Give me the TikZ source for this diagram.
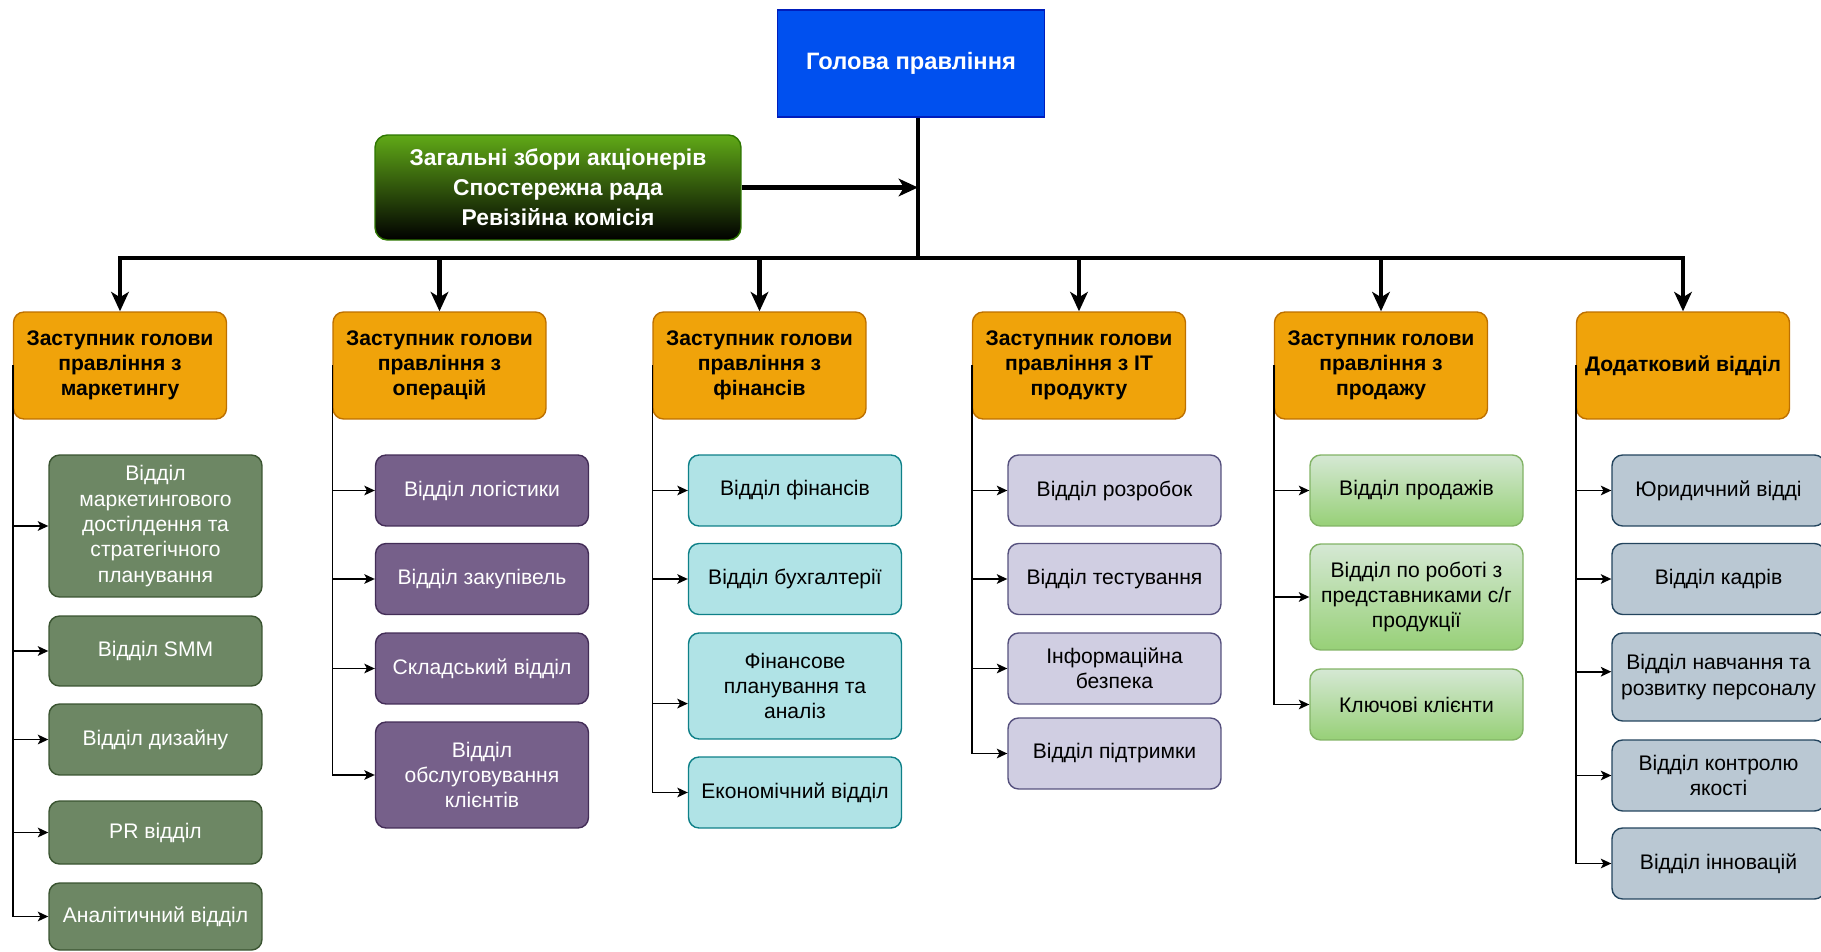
\documentclass[tikz,border=0pt]{standalone}
\usepackage{fontspec}
\setmainfont{Liberation Sans}
\usepackage{tikz}
\usetikzlibrary{arrows.meta,positioning}

\definecolor{chieffill}{HTML}{0050EF}
\definecolor{chiefline}{HTML}{001DBC}
\definecolor{boardtop}{HTML}{60A917}
\definecolor{boardline}{HTML}{2D7600}
\definecolor{deputyfill}{HTML}{F0A30A}
\definecolor{deputyline}{HTML}{BD7000}
\definecolor{mktfill}{HTML}{6D8764}
\definecolor{mktline}{HTML}{3A5431}
\definecolor{opsfill}{HTML}{76608A}
\definecolor{opsline}{HTML}{432D57}
\definecolor{finfill}{HTML}{B0E3E6}
\definecolor{finline}{HTML}{0E8088}
\definecolor{itfill}{HTML}{D0CEE2}
\definecolor{itline}{HTML}{56517E}
\definecolor{saletop}{HTML}{D5E8D4}
\definecolor{salebottom}{HTML}{97D077}
\definecolor{saleline}{HTML}{82B366}
\definecolor{extfill}{HTML}{BAC8D3}
\definecolor{extline}{HTML}{23445D}

\begin{document}
\begin{tikzpicture}[
	x=0.02cm, y=-0.02cm,
	mainline/.style={line width=2.4pt, -{Stealth[length=11pt,width=10pt,inset=3pt]}},
	subline/.style={line width=0.9pt, -{Stealth[length=6pt,width=5.5pt,inset=1.5pt]}},
	dept/.style={draw, rounded corners=6pt, line width=0.8pt, align=center,
		minimum width=4.26cm, minimum height=1.42cm, inner sep=1pt,
		font=\fontsize{12}{14.4}\selectfont},
	chiefbox/.style={draw=chiefline, fill=chieffill, text=white, line width=0.8pt,
		minimum width=5.34cm, minimum height=2.14cm,
		font=\fontsize{13.5}{16}\selectfont\bfseries},
	boardbox/.style={draw=boardline, top color=boardtop, bottom color=black, text=white,
		rounded corners=7pt, line width=0.8pt, align=center,
		minimum width=7.32cm, minimum height=2.1cm,
		font=\fontsize{13}{17}\selectfont\bfseries},
	deputybox/.style={dept, draw=deputyline, fill=deputyfill, minimum height=2.14cm,
		font=\fontsize{12}{14.4}\selectfont\bfseries},
	mktbox/.style={dept, draw=mktline, fill=mktfill, text=white},
	opsbox/.style={dept, draw=opsline, fill=opsfill, text=white},
	finbox/.style={dept, draw=finline, fill=finfill},
	itbox/.style={dept, draw=itline, fill=itfill},
	salebox/.style={dept, draw=saleline, top color=saletop, bottom color=salebottom},
	extbox/.style={dept, draw=extline, fill=extfill}]
	\useasboundingbox (0,0) rectangle (1821,952);

	\node[chiefbox] (chief) at (911,63.5) {Голова правління};
	\node[boardbox] (board) at (558,187.5) {Загальні збори акціонерів\\Спостережна рада\\Ревізійна комісія};
	\coordinate (hub) at (918,258);

	\node[deputybox] (mkt) at (120,365.5) {Заступник голови\\правління з\\маркетингу};
	\node[deputybox] (ops) at (439.5,365.5) {Заступник голови\\правління з\\операцій};
	\node[deputybox] (fin) at (759.5,365.5) {Заступник голови\\правління з\\фінансів};
	\node[deputybox] (prod) at (1079,365.5) {Заступник голови\\правління з IT\\продукту};
	\node[deputybox] (sale) at (1381,365.5) {Заступник голови\\правління з\\продажу};
	\node[deputybox] (ext) at (1683,365.5) {Додатковий відділ};

	\node[mktbox, minimum height=2.84cm] (m1) at (155.5,526) {Відділ\\маркетингового\\достілдення та\\стратегічного\\планування};
	\node[mktbox, minimum height=1.4cm] (m2) at (155.5,651) {Відділ SMM};
	\node[mktbox] (m3) at (155.5,739.5) {Відділ дизайну};
	\node[mktbox, minimum height=1.26cm] (m4) at (155.5,832.5) {PR відділ};
	\node[mktbox, minimum height=1.34cm] (m5) at (155.5,916.5) {Аналітичний відділ};

	\node[opsbox] (p1) at (482,490.5) {Відділ логістики};
	\node[opsbox] (p2) at (482,579) {Відділ закупівель};
	\node[opsbox] (p3) at (482,668.5) {Складський відділ};
	\node[opsbox, minimum height=2.12cm] (p4) at (482,775) {Відділ\\обслуговування\\клієнтів};

	\node[finbox] (f1) at (795,490.5) {Відділ фінансів};
	\node[finbox] (f2) at (795,579) {Відділ бухгалтерії};
	\node[finbox, minimum height=2.12cm] (f3) at (795,686) {Фінансове\\планування та\\аналіз};
	\node[finbox] (f4) at (795,792.5) {Економічний відділ};

	\node[itbox] (t1) at (1114.5,490.5) {Відділ розробок};
	\node[itbox] (t2) at (1114.5,579) {Відділ тестування};
	\node[itbox] (t3) at (1114.5,668.5) {Інформаційна\\безпека};
	\node[itbox] (t4) at (1114.5,753.5) {Відділ підтримки};

	\node[salebox] (s1) at (1416.5,490.5) {Відділ продажів};
	\node[salebox, minimum height=2.12cm] (s2) at (1416.5,597) {Відділ по роботі з\\представниками с/г\\продукції};
	\node[salebox] (s3) at (1416.5,704.5) {Ключові клієнти};

	\node[extbox] (e1) at (1718.5,490.5) {Юридичний відді};
	\node[extbox] (e2) at (1718.5,579) {Відділ кадрів};
	\node[extbox, minimum height=1.76cm] (e3) at (1718.5,677) {Відділ навчання та\\розвитку персоналу};
	\node[extbox] (e4) at (1718.5,775.5) {Відділ контролю\\якості};
	\node[extbox] (e5) at (1718.5,863.5) {Відділ інновацій};

	\draw[line width=2.4pt] (chief.south -| hub) -- (hub);
	\draw[mainline] (board.east) -- (board.east -| hub);
	\foreach \d in {mkt,ops,fin,prod,sale,ext}
		\draw[mainline] (hub) -| (\d.north);

	\foreach \b in {m1,m2,m3,m4,m5}
		\draw[subline] (mkt.west) |- (\b.west);
	\foreach \b in {p1,p2,p3,p4}
		\draw[subline] (ops.west) |- (\b.west);
	\foreach \b in {f1,f2,f4}
		\draw[subline] (fin.west) |- (\b.west);
	\draw[subline] (fin.west) |- ([yshift=-10pt]f3.west);
	\foreach \b in {t1,t2,t3,t4}
		\draw[subline] (prod.west) |- (\b.west);
	\foreach \b in {s1,s2,s3}
		\draw[subline] (sale.west) |- (\b.west);
	\foreach \b in {e1,e2,e4,e5}
		\draw[subline] (ext.west) |- (\b.west);
	\draw[subline] (ext.west) |- ([yshift=3pt]e3.west);
\end{tikzpicture}
\end{document}
